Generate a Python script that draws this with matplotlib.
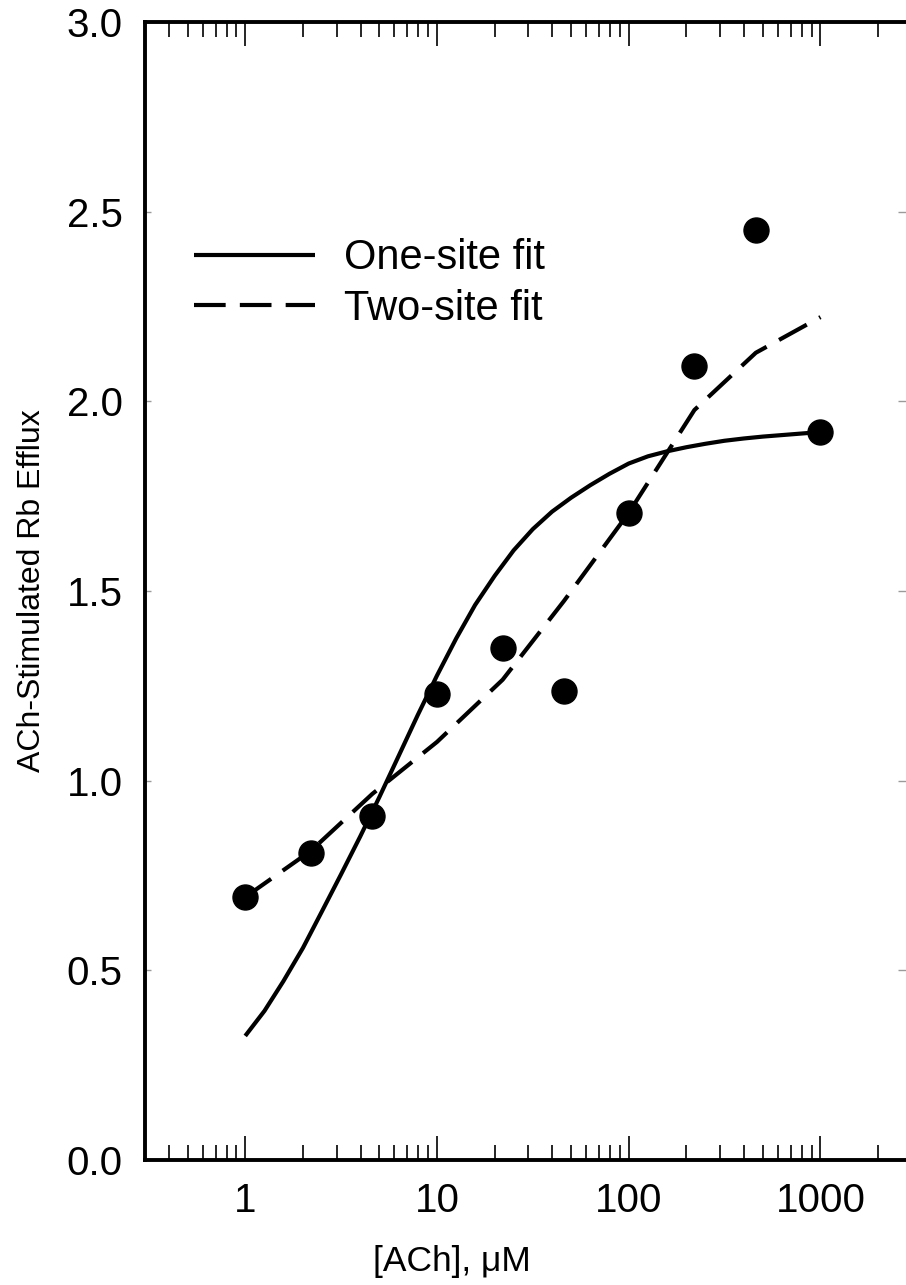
import matplotlib
matplotlib.use('Agg')
import matplotlib.pyplot as plt

plt.rcParams['font.family'] = ['Liberation Sans', 'DejaVu Sans']

# Data
conc = [1, 2.2, 4.6, 10, 22, 46, 100, 220, 460, 1000]
efflux = [0.693, 0.809, 0.907, 1.229, 1.350, 1.236, 1.706, 2.093, 2.452, 1.919]

one_site_x = [1, 1.26, 1.58, 2, 2.51, 3.16, 3.98, 5.01, 6.31, 7.94, 10,
              12.6, 15.8, 20, 25.1, 31.6, 39.8, 50.1, 63.1, 79.4, 100,
              126, 158, 200, 251, 316, 398, 501, 631, 794, 1000]
one_site_y = [0.327, 0.393, 0.471, 0.559, 0.655, 0.753, 0.853, 0.957, 1.065,
              1.173, 1.277, 1.375, 1.463, 1.540, 1.607, 1.663, 1.709, 1.746,
              1.779, 1.809, 1.836, 1.855, 1.868, 1.879, 1.888, 1.896, 1.902,
              1.907, 1.911, 1.915, 1.919]

two_site_x = conc
two_site_y = [0.693, 0.815, 0.965, 1.102, 1.266, 1.474, 1.706, 1.977, 2.128, 2.222]

xticks = [1, 10, 100, 1000]
xticklabels = ['1', '10', '100', '1000']
yticks = [0.0, 0.5, 1.0, 1.5, 2.0, 2.5, 3.0]

fig = plt.figure(figsize=(9.06, 12.85), dpi=100)
ax = fig.add_axes([0.160, 0.0973, 0.8466, 0.8856])

ax.plot(one_site_x, one_site_y, color='black', lw=3, solid_capstyle='butt',
        solid_joinstyle='round', label='One-site fit')
ax.plot(two_site_x, two_site_y, color='black', lw=3, dashes=(7.6, 3.4),
        dash_capstyle='butt', label='Two-site fit')
ax.plot(conc, efflux, 'o', color='black', ms=18, zorder=3)

ax.set_xscale('log')
ax.set_xlim(0.3, 3000)
ax.set_ylim(0, 3.0)
ax.set_xticks(xticks)
ax.set_xticklabels(xticklabels)
ax.set_yticks(yticks)
ax.set_yticklabels([f'{v:.1f}' for v in yticks])

for s in ax.spines.values():
    s.set_linewidth(2.8)
ax.spines['right'].set_visible(False)

ax.tick_params(axis='x', which='both', direction='in', top=True, bottom=True,
               labelsize=29, pad=16, width=1.2)
ax.tick_params(axis='x', which='major', length=17)
ax.tick_params(axis='x', which='minor', length=11)
ax.tick_params(axis='y', which='major', direction='in', left=True, right=True,
               labelsize=29, pad=16, length=4, width=1, color='#9a9a9a')
ax.tick_params(axis='y', which='minor', left=False, right=False)
for t in ax.yaxis.get_major_ticks():
    t.tick2line.set_markersize(10)

ax.set_xlabel('[ACh], μM', fontsize=25.5)
ax.set_ylabel('ACh-Stimulated Rb Efflux', fontsize=23)
ax.xaxis.set_label_coords(0.40, -0.0745)
ax.yaxis.set_label_coords(-0.128, 0.5)

ax.legend(loc='upper left', bbox_to_anchor=(0.0645, 0.81), frameon=False,
          fontsize=30, handlelength=2.9, handletextpad=0.7, labelspacing=0.25,
          borderpad=0, borderaxespad=0)

fig.savefig('out.png', dpi=100)
